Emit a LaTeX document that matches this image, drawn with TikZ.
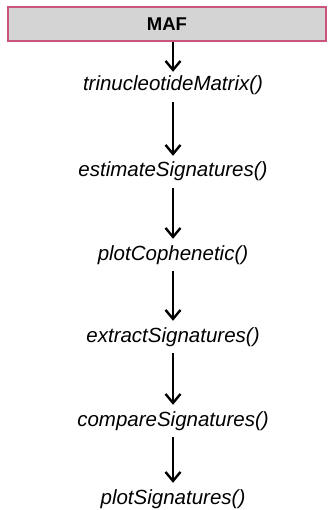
\documentclass[tikz,border=0pt]{standalone}
\usepackage{fontspec}
\setmainfont{Liberation Sans}
\usetikzlibrary{arrows.meta}
\definecolor{mafborder}{RGB}{200,85,125}
\definecolor{maffill}{RGB}{212,212,212}
\tikzset{
  fn/.style={font=\fontsize{20.5}{24}\selectfont\itshape, inner sep=0pt, text height=15pt, text depth=5pt},
  flow/.style={line width=2.4pt, -{Straight Barb[length=9pt,width=15pt,line width=2.4pt]}, shorten <=6pt, shorten >=6pt},
  mafbox/.style={draw=mafborder, line width=2pt, fill=maffill, minimum width=318pt, minimum height=34pt, inner sep=0pt, font=\fontsize{18.5}{20}\selectfont\bfseries}
}
\begin{document}
\begin{tikzpicture}[x=1pt,y=1pt]
\useasboundingbox (0,0) rectangle (334,-510);
\node[mafbox] (maf) at (167,-24.5) {MAF};
\node[fn] (t1) at (173,-86) {trinucleotideMatrix()};
\node[fn] (t2) at (173,-172) {estimateSignatures()};
\node[fn] (t3) at (173,-255) {plotCophenetic()};
\node[fn] (t4) at (173,-337) {extractSignatures()};
\node[fn] (t5) at (173,-421) {compareSignatures()};
\node[fn] (t6) at (173,-499) {plotSignatures()};
\draw[flow, shorten <=0pt, shorten >=4pt] (maf.south -| t1) -- (t1.north);
\draw[flow] (t1) -- (t2);
\draw[flow] (t2) -- (t3);
\draw[flow] (t3) -- (t4);
\draw[flow] (t4) -- (t5);
\draw[flow] (t5) -- (t6);
\end{tikzpicture}
\end{document}
